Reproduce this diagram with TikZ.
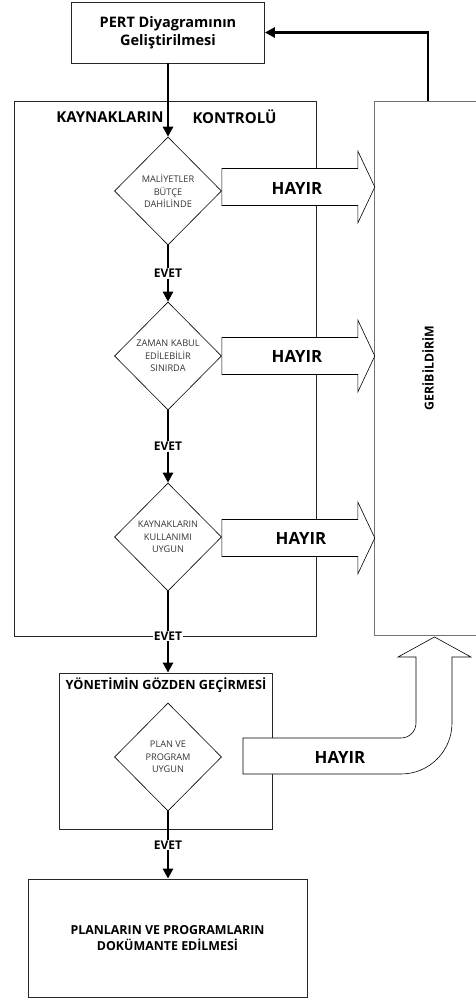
\documentclass[tikz,border=0pt]{standalone}
\usepackage{fontspec}
\setmainfont{Open Sans}
\usetikzlibrary{shapes.geometric,arrows.meta}
\begin{document}
\begin{tikzpicture}[x=1pt,y=-1pt,
  box/.style={draw=black!85, line width=0.8pt, inner sep=0pt},
  dia/.style={diamond, draw, line width=0.6pt, minimum width=107pt, minimum height=108pt, inner sep=0pt, align=center, font=\fontsize{9.2}{12.5}\selectfont, text=black!80},
  flow/.style={line width=2.8pt, -{Triangle[length=10pt,width=10pt]}},
  lbl/.style={font=\bfseries\fontsize{12}{14}\selectfont, fill=white, inner sep=1pt},
  hay/.style={font=\bfseries\fontsize{16.8}{19}\selectfont},
  blk/.style={draw, line width=0.6pt, fill=white, line join=miter},
  hayirarrow/.pic={\draw[blk] (0,-18.5) -- (136,-18.5) -- (136,-36) -- (153,0) -- (136,36) -- (136,18.5) -- (0,18.5) -- cycle;}
]
\useasboundingbox (0,0) rectangle (475,1001);

% boxes
\node[box, minimum width=193pt, minimum height=61pt, align=center,
  font=\bfseries\fontsize{14.5}{18}\selectfont] (pert) at (168,32.5) {PERT Diyagramının\\Geliştirilmesi};
\node[box, minimum width=302pt, minimum height=535pt] (kk) at (165,368.5) {};
\node[font=\bfseries\fontsize{15}{16}\selectfont] (kt1) at (110,117) {KAYNAKLARIN};
\node[font=\bfseries\fontsize{15}{16}\selectfont] (kt2) at (234.5,117) {KONTROLÜ};
\node[draw=black!55, line width=0.8pt, minimum width=108pt, minimum height=534pt, inner sep=0pt] (geri) at (428,368) {};
\node[rotate=90, font=\bfseries\fontsize{12.3}{14}\selectfont] (geritxt) at (428,368) {GERİBİLDİRİM};
\node[box, minimum width=213pt, minimum height=156pt] (yon) at (165.5,751) {};
\node[font=\bfseries\fontsize{12.7}{15}\selectfont] (yontxt) at (166,685) {YÖNETİMİN GÖZDEN GEÇİRMESİ};
\node[box, minimum width=279pt, minimum height=118pt, align=center,
  font=\bfseries\fontsize{12.4}{15.5}\selectfont] (fin) at (167.5,938) {PLANLARIN VE PROGRAMLARIN\\DOKÜMANTE EDİLMESİ};

% diamonds
\node[dia] (d1) at (168,191) {MALİYETLER\\BÜTÇE\\DAHİLİNDE};
\node[dia] (d2) at (168,356) {ZAMAN KABUL\\EDİLEBİLİR\\SINIRDA};
\node[dia] (d3) at (168,537) {KAYNAKLARIN\\KULLANIMI\\UYGUN};
\node[dia] (d4) at (168,757) {PLAN VE\\PROGRAM\\UYGUN};

% HAYIR block arrows
\pic at ([yshift=4pt]d1.east) {hayirarrow};
\node[hay] (h1) at (297,188) {HAYIR};
\pic at (d2.east) {hayirarrow};
\node[hay] (h2) at (297,356) {HAYIR};
\pic at ([yshift=-1pt]d3.east) {hayirarrow};
\node[hay] (h3) at (301,538) {HAYIR};

% U-turn arrow to feedback
\draw[blk] (243,738) -- (401,738) arc[start angle=90, end angle=0, radius=15] -- (416,657)
  -- (398,657) -- (434.5,637) -- (471,657) -- (452,657) -- (452,723)
  arc[start angle=0, end angle=90, radius=51] -- (243,774) -- cycle;
\node[hay] (h4) at (340,757) {HAYIR};

% flow arrows
\draw[flow] (pert.south -| d1.north) -- (d1.north);
\draw[flow] (d1.south) -- node[lbl] {EVET} (d2.north);
\draw[flow] (d2.south) -- node[lbl] {EVET} (d3.north);
\draw[flow] (d3.south) -- (d3.south |- yon.north);
\node[lbl] (e3) at (168,636) {EVET};
\draw[flow] (d4.south) -- node[lbl] {EVET} (d4.south |- fin.north);
\draw[flow] (geri.north) |- (pert.east);
\end{tikzpicture}
\end{document}
